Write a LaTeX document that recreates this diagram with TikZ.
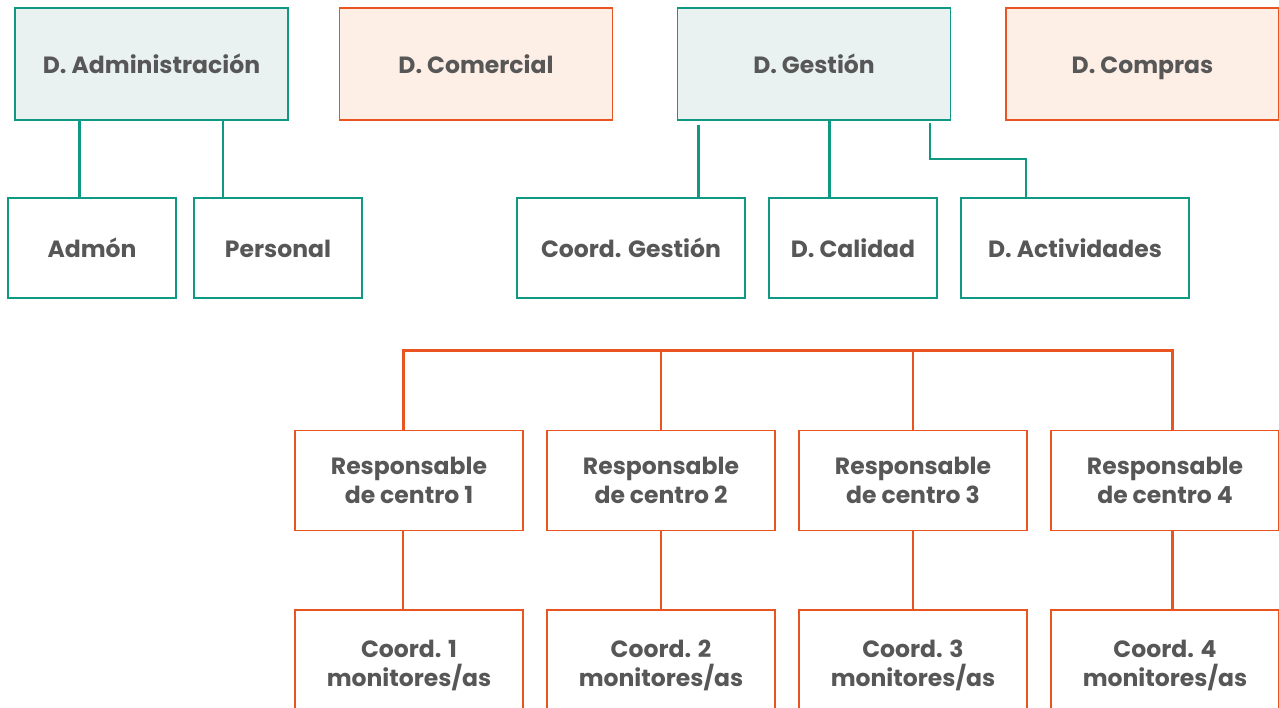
\documentclass[tikz,border=0pt]{standalone}
\usepackage{fontspec}
\setmainfont{Poppins}
\definecolor{tealc}{HTML}{0F9983}
\definecolor{tealfill}{HTML}{E9F2F1}
\definecolor{orng}{HTML}{EA5420}
\definecolor{orfill}{HTML}{FDEEE6}
\definecolor{txtc}{HTML}{575757}
\tikzset{
  box/.style={draw, line width=1.4pt, text=txtc, align=center, inner sep=0pt,
    font=\fontsize{23.5}{29}\selectfont\bfseries},
  one/.style={text height=21pt, text depth=1pt},
  tbox/.style={box, draw=tealc},
  obox/.style={box, draw=orng},
  big/.style={one, minimum width=273pt, minimum height=112pt},
  small/.style={one, minimum width=168pt, minimum height=100pt},
  mid/.style={minimum width=228pt, minimum height=100pt},
  tl/.style={draw=tealc, line width=#1},
  ol/.style={draw=orng, line width=#1},
}
\begin{document}
\begin{tikzpicture}[x=1pt, y=-1pt]
\useasboundingbox (0,0) rectangle (1279,708);
\clip (0,0) rectangle (1279,708);
% top row
\node[tbox, big, fill=tealfill] (adm) at (151.5,64) {D. Administración};
\node[obox, big, fill=orfill] (com) at (476,64) {D. Comercial};
\node[tbox, big, fill=tealfill] (ges) at (814,64) {D. Gestión};
\node[obox, big, fill=orfill] (cpr) at (1142.5,64) {D. Compras};
% second row
\node[tbox, small] (admon) at (92,248) {Admón};
\node[tbox, small] (pers) at (278,248) {Personal};
\node[tbox, mid, one] (cges) at (631,248) {Coord. Gestión};
\node[tbox, small] (cal) at (853,248) {D. Calidad};
\node[tbox, mid, one] (act) at (1075,248) {D. Actividades};
% responsables
\node[obox, mid] (r1) at (409,480.5) {Responsable\\de centro 1};
\node[obox, mid] (r2) at (661,480.5) {Responsable\\de centro 2};
\node[obox, mid] (r3) at (913,480.5) {Responsable\\de centro 3};
\node[obox, mid] (r4) at (1165,480.5) {Responsable\\de centro 4};
% coords
\node[obox, mid, minimum height=110pt] (c1) at (409,665) {Coord. 1\\monitores/as};
\node[obox, mid, minimum height=110pt] (c2) at (661,665) {Coord. 2\\monitores/as};
\node[obox, mid, minimum height=110pt] (c3) at (913,665) {Coord. 3\\monitores/as};
\node[obox, mid, minimum height=110pt] (c4) at (1165,665) {Coord. 4\\monitores/as};
% helper x coordinates
\coordinate (xa) at (79,0);
\coordinate (xp) at (223,0);
\coordinate (xg) at (698,0);
\coordinate (xc) at (829,0);
\coordinate (xr) at (930,0);
\coordinate (xd) at (1026,0);
\coordinate (bl) at (403,351);
\coordinate (br) at (1172,351);
% teal connectors
\draw[tl=3pt] (adm.south -| xa) -- (admon.north -| xa);
\draw[tl=2pt] (adm.south -| xp) -- (pers.north -| xp);
\draw[tl=3pt] ([yshift=-4pt]ges.south -| xg) -- (cges.north -| xg);
\draw[tl=3pt] (ges.south -| xc) -- (cal.north -| xc);
\draw[tl=1.3pt] ([yshift=-2pt]ges.south -| xr) |- (xd |- 0,159) -- (act.north -| xd);
% orange bus
\draw[ol=3pt] (r1.north -| bl) -- (bl) -- (br) -- (r4.north -| br);
\draw[ol=2.5pt] (bl -| r2.north) -- (r2.north);
\draw[ol=2.5pt] (bl -| r3.north) -- (r3.north);
% orange verticals to coords
\draw[ol=2.5pt] (r1.south -| bl) -- (c1.north -| bl);
\draw[ol=2.5pt] (r2.south) -- (c2.north);
\draw[ol=2.5pt] (r3.south) -- (c3.north);
\draw[ol=3pt] (r4.south -| br) -- (c4.north -| br);
\end{tikzpicture}
\end{document}
